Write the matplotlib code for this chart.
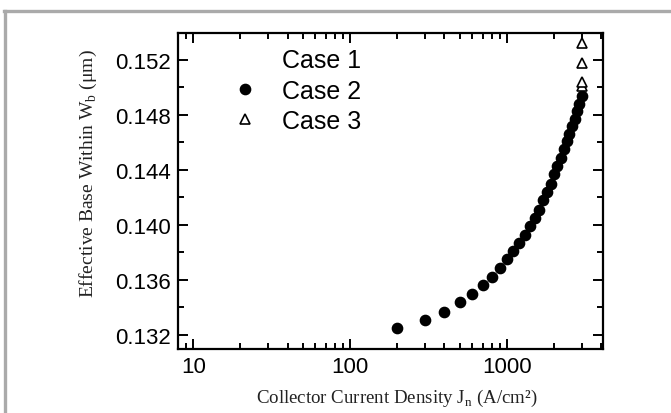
import matplotlib
matplotlib.use("Agg")
import matplotlib.pyplot as plt
from matplotlib.lines import Line2D
from matplotlib.ticker import LogLocator, MultipleLocator, FixedLocator

# ---- data ----
case2_j = [200, 300, 400, 500, 600, 700, 800, 900, 1000, 1100, 1200, 1300, 1400,
           1500, 1600, 1700, 1800, 1900, 2000, 2100, 2200, 2300, 2400, 2500,
           2600, 2700, 2800, 2900, 3000]
case2_w = [0.1325, 0.1331, 0.1337, 0.1344, 0.1350, 0.1356, 0.1362, 0.1369, 0.1375,
           0.1381, 0.1387, 0.1393, 0.1399, 0.1405, 0.1411, 0.1418, 0.1424, 0.1430,
           0.1437, 0.1443, 0.1449, 0.1455, 0.1461, 0.1466, 0.1472, 0.1477, 0.1483,
           0.1488, 0.1494]
case3_j = [3000, 3000, 3000, 3000]
case3_w = [0.1501, 0.1504, 0.1518, 0.1532]
legend_labels = ["Case 1", "Case 2", "Case 3"]
y_ticks = [0.132, 0.136, 0.140, 0.144, 0.148, 0.152]
y_tick_labels = ["0.132", "0.136", "0.140", "0.144", "0.148", "0.152"]
x_ticks = [10, 100, 1000]
x_tick_labels = ["10", "100", "1000"]

W, H = 671, 414
fig = plt.figure(figsize=(W / 100, H / 100), dpi=100)
fig.patch.set_facecolor("white")

ax = fig.add_axes([178 / W, 1 - 350 / H, (603 - 178) / W, (350 - 34) / H])
ax.set_xscale("log")
ax.set_xlim(8.0, 4100)
ax.set_ylim(0.13098, 0.15396)

ax.plot(case2_j, case2_w, linestyle="none", marker="o", markersize=7.4,
        markerfacecolor="black", markeredgecolor="black", label=legend_labels[1])
ax.plot(case3_j, case3_w, linestyle="none", marker="^", markersize=7.6,
        markerfacecolor="white", markeredgecolor="black", markeredgewidth=1.2,
        label=legend_labels[2])

sans = ["Liberation Sans", "DejaVu Sans"]
serif = ["Liberation Serif", "DejaVu Serif"]

ax.xaxis.set_major_locator(FixedLocator(x_ticks))
ax.xaxis.set_minor_locator(LogLocator(base=10, subs=range(2, 10), numticks=20))
ax.set_xticks(x_ticks)
ax.set_xticklabels(x_tick_labels, fontfamily=sans, fontsize=16)
ax.set_yticks(y_ticks)
ax.set_yticklabels(y_tick_labels, fontfamily=sans, fontsize=16)
ax.yaxis.set_minor_locator(MultipleLocator(0.002))

ax.tick_params(which="both", direction="in", top=True, right=True, width=1.4, color="black")
ax.tick_params(which="major", length=7, pad=5)
ax.tick_params(which="minor", length=4)
for s in ax.spines.values():
    s.set_linewidth(1.6)

# legend
h1 = Line2D([], [], linestyle="none", marker="none")
h2 = Line2D([], [], linestyle="none", marker="o", markersize=7.4,
            markerfacecolor="black", markeredgecolor="black")
h3 = Line2D([], [], linestyle="none", marker="^", markersize=7.6,
            markerfacecolor="white", markeredgecolor="black", markeredgewidth=1.2)
ax.legend([h1, h2, h3], legend_labels, loc="upper left", frameon=False,
          bbox_to_anchor=((215 - 178) / (603 - 178), 1.007),
          prop={"family": sans, "size": 18}, handlelength=1.0,
          handletextpad=1.0, labelspacing=0.25, borderaxespad=0.3)

fig.text(397 / W, 1 - 398 / H, "Collector Current Density J$_\\mathregular{n}$ (A/cm\u00b2)",
         ha="center", va="center", fontfamily=serif, fontsize=13.6, color="#222222")
fig.text(88 / W, 1 - 174 / H, "Effective Base Within W$_\\mathregular{b}$ (\u03bcm)",
         ha="center", va="center", rotation=90, fontfamily=serif, fontsize=14,
         color="#222222")

# gray frame lines (top and left)
fig.add_artist(Line2D([4 / W, 1.0], [1 - 12 / H, 1 - 12 / H], color="#aaaaaa",
                      linewidth=2.4, transform=fig.transFigure))
fig.add_artist(Line2D([5 / W, 5 / W], [0.0, 1 - 12 / H], color="#aaaaaa",
                      linewidth=2.4, transform=fig.transFigure))

fig.savefig("out.png", dpi=100, facecolor="white")
